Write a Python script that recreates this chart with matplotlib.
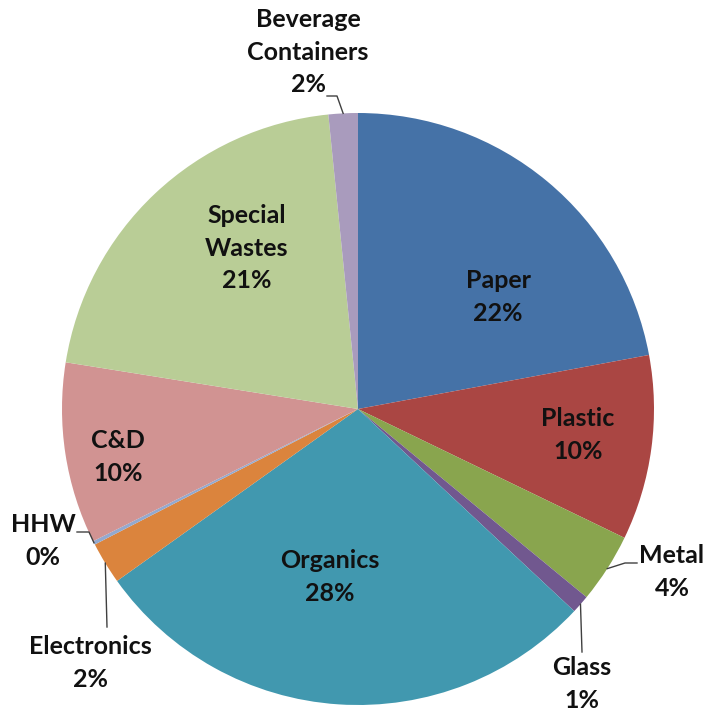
"""
Waste composition pie chart.
"""

import numpy as np
import matplotlib.pyplot as plt

categories = ["Paper", "Plastic", "Metal", "Glass", "Organics", "Electronics",
              "HHW", "C&D", "Special\nWastes", "Beverage\nContainers"]
shares = [22.1, 10.1, 3.8, 1.0, 28.2, 2.3, 0.2, 9.9, 20.9, 1.6]
colors = ["#4572A7", "#AA4643", "#89A54E", "#71588F", "#4198AF", "#DB843D",
          "#93A9CF", "#D19392", "#B9CD96", "#A99BBD"]

W, H = 710, 714
CX, CY, R = 358, H - 409, 296

# label centres in pixel coords (y from top), and leader elbows/ends for outside labels
label_pos = {
    "Paper": (498, 297), "Plastic": (578, 435), "Metal": (672, 572),
    "Glass": (582, 684), "Organics": (330, 577), "Electronics": (90, 663),
    "HHW": (43, 541), "C&D": (118, 457), "Special\nWastes": (247, 248),
    "Beverage\nContainers": (308, 52),
}
leaders = {
    "Beverage\nContainers": [(337, 96), (327, 96)],
    "Metal": [(625, 563), (637, 563)],
    "Glass": [(582, 652)],
    "HHW": [(89, 532), (77, 532)],
    "Electronics": [(107, 627)],
}

plt.rcParams["font.family"] = ["Lato", "DejaVu Sans"]

fig = plt.figure(figsize=(W / 100, H / 100), dpi=100)
ax = fig.add_axes([0, 0, 1, 1])
wedges, _ = ax.pie(shares, colors=colors, startangle=90, counterclock=False,
                   radius=R, center=(CX, CY), wedgeprops=dict(linewidth=0))

total = sum(shares)
for w, name, v in zip(wedges, categories, shares):
    txt = f"{name}\n{v / total * 100:.0f}%"
    x, y = label_pos[name]
    ax.text(x, H - y, txt, ha="center", va="center", fontsize=18,
            fontweight="bold", color="#111111", linespacing=1.5)
    if name in leaders:
        ang = np.deg2rad((w.theta1 + w.theta2) / 2)
        pts = [(CX + R * np.cos(ang), CY + R * np.sin(ang))]
        pts += [(px, H - py) for px, py in leaders[name]]
        xs, ys = zip(*pts)
        ax.plot(xs, ys, color="#404040", linewidth=1.0)

ax.set_xlim(0, W)
ax.set_ylim(0, H)
ax.set_aspect("equal")
ax.axis("off")
fig.savefig("out.png", dpi=100)
